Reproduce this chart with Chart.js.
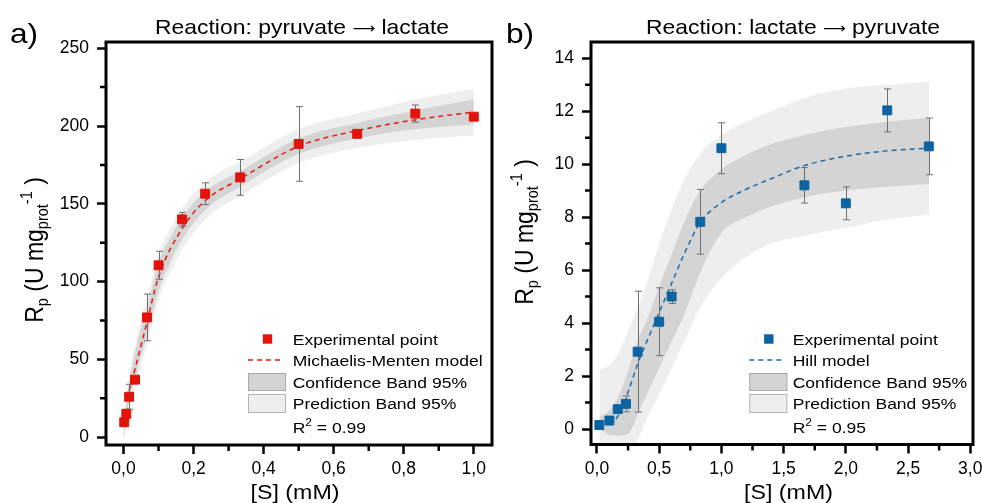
<!DOCTYPE html>
<html>
<head>
<meta charset="utf-8">
<script src="https://cdn.jsdelivr.net/npm/chart.js@4.4.1/dist/chart.umd.min.js"></script>
<style>
  body { margin:0; background:#fff; }
  #wrap { position:relative; width:982px; height:503px; overflow:hidden; }
  .box { position:absolute; top:0; height:503px; }
  #boxA { left:0; width:496px; }
  #boxB { left:491px; width:491px; }
</style>
</head>
<body>
<div id="wrap">
  <div class="box" id="boxA"><canvas id="chartA"></canvas></div>
  <div class="box" id="boxB"><canvas id="chartB"></canvas></div>
</div>
<script>
// a) pyruvate -> lactate : experimental points
var sA   = [0.002, 0.008, 0.016, 0.033, 0.067, 0.1, 0.167, 0.233, 0.333, 0.5, 0.667, 0.833, 1.0];
var rpA  = [9.6, 15, 26, 37, 77, 110.5, 140, 156.5, 167, 188.5, 195, 208, 206];
var errA = [2, 3, 8, 2, 15, 9, 4.5, 7, 11.5, 24, 2.5, 5.5, 2];
// Michaelis-Menten curve
var fitSA  = [0.016, 0.033, 0.067, 0.1, 0.167, 0.233, 0.333, 0.5, 0.667, 0.833, 1.0];
var fitRpA = [30, 44, 74, 103, 134, 152, 166, 187, 197, 204, 209];
// bands
var bandSA  = [0, 0.01, 0.02, 0.033, 0.05, 0.067, 0.1, 0.133, 0.167, 0.233, 0.333, 0.5, 0.667, 0.833, 1.0];
var confLoA = [-2, 15, 28, 38, 52, 65, 94, 112, 127, 146, 161, 182, 192, 198, 201];
var confHiA = [2, 25, 40, 54, 70, 83, 112, 128, 141, 158, 171, 192, 202, 210, 217];
var predLoA = [-5, 10, 22, 32, 46, 59, 88, 106, 121, 140, 155, 176, 186, 191, 194];
var predHiA = [5, 30, 46, 60, 76, 89, 118, 134, 147, 164, 177, 198, 208, 217, 224];
var xMajorA = [0, 0.2, 0.4, 0.6, 0.8, 1.0];
var xLabelsA = ['0,0', '0,2', '0,4', '0,6', '0,8', '1,0'];
var xMinorA = [0.1, 0.3, 0.5, 0.7, 0.9];
var yMajorA = [0, 50, 100, 150, 200, 250];
var yLabelsA = ['0', '50', '100', '150', '200', '250'];
var yMinorA = [25, 75, 125, 175, 225];

// b) lactate -> pyruvate : experimental points
var sB   = [0.019, 0.1, 0.167, 0.233, 0.327, 0.5, 0.6, 0.83, 1.0, 1.667, 2.0, 2.333, 2.667];
var rpB  = [0.15, 0.32, 0.75, 0.95, 2.92, 4.05, 5.0, 7.82, 10.6, 9.2, 8.52, 12.03, 10.67];
var errB = [0.08, 0.08, 0.12, 0.3, 2.28, 1.28, 0.26, 1.22, 0.96, 0.67, 0.62, 0.81, 1.07];
// Hill curve
var fitSB  = [0.1, 0.17, 0.25, 0.33, 0.4, 0.5, 0.6, 0.7, 0.83, 1.0, 1.2, 1.4, 1.67, 2.0, 2.33, 2.67];
var fitRpB = [0.15, 0.5, 1.4, 2.5, 3.3, 4.4, 5.5, 6.6, 7.8, 8.55, 9.05, 9.45, 9.95, 10.3, 10.5, 10.6];
var bandSB  = [0.02, 0.1, 0.17, 0.25, 0.33, 0.4, 0.5, 0.6, 0.7, 0.83, 1.0, 1.2, 1.4, 1.67, 2.0, 2.33, 2.67];
var confLoB = [0.0, -0.22, -0.25, -0.18, 0.6, 1.3, 2.3, 3.3, 4.3, 5.9, 7.4, 8.0, 8.4, 8.75, 9.0, 9.15, 9.25];
var confHiB = [0.45, 0.7, 1.2, 2.2, 3.4, 4.1, 5.4, 6.6, 7.8, 9.0, 9.8, 10.35, 10.75, 11.1, 11.4, 11.6, 11.75];
var predLoB = [-2.0, -2.0, -1.8, -1.3, -0.4, 0.4, 1.3, 2.3, 3.3, 4.6, 5.7, 6.5, 7.0, 7.3, 7.6, 7.9, 8.1];
var predHiB = [2.25, 2.4, 2.85, 3.7, 4.6, 5.5, 7.0, 8.3, 9.4, 10.4, 11.1, 11.6, 12.0, 12.5, 12.85, 13.0, 13.1];
var xMajorB = [0, 0.5, 1.0, 1.5, 2.0, 2.5, 3.0];
var xLabelsB = ['0,0', '0,5', '1,0', '1,5', '2,0', '2,5', '3,0'];
var xMinorB = [0.25, 0.75, 1.25, 1.75, 2.25, 2.75];
var yMajorB = [0, 2, 4, 6, 8, 10, 12, 14];
var yLabelsB = ['0', '2', '4', '6', '8', '10', '12', '14'];
var yMinorB = [1, 3, 5, 7, 9, 11, 13];

var FONT = '"Liberation Sans", Arial, sans-serif';
var ARROWFONT = '"DejaVu Sans", sans-serif';
var SX = 1.13; // the figure text is a bit wide
Chart.defaults.font.family = FONT;

function pts(xs, ys) {
  return xs.map(function(x, i) { return {x: x, y: ys[i]}; });
}

function txt(ctx, s, x, y, size, align) {
  ctx.save();
  ctx.translate(x, y);
  ctx.scale(SX, 1);
  ctx.font = size + 'px ' + FONT;
  ctx.fillStyle = '#000';
  ctx.textAlign = align || 'left';
  ctx.textBaseline = 'alphabetic';
  ctx.fillText(s, 0, 0);
  ctx.restore();
}

// pieces of text with sub/superscripts, drawn one after the other
function richText(ctx, parts, x, y) {
  var cx = x;
  parts.forEach(function(p) {
    ctx.font = p.size + 'px ' + (p.font || FONT);
    ctx.fillText(p.t, cx, y + (p.dy || 0));
    cx += ctx.measureText(p.t).width;
  });
}
function richWidth(ctx, parts) {
  var w = 0;
  parts.forEach(function(p) { ctx.font = p.size + 'px ' + (p.font || FONT); w += ctx.measureText(p.t).width; });
  return w;
}

var yTitle = [
  {t: 'R', size: 23}, {t: 'p', size: 14.5, dy: 5}, {t: ' (U mg', size: 23},
  {t: 'prot', size: 14.5, dy: 5}, {t: '-1', size: 14.5, dy: -9}, {t: ' )', size: 23}
];

function deco(o) {
  return {
    id: 'deco',
    beforeDatasetDraw: function(chart, args) {
      if (args.index !== 0) return;
      // error bars, under the squares
      var ctx = chart.ctx, xs = chart.scales.x, ys = chart.scales.y;
      ctx.save();
      ctx.strokeStyle = '#707070';
      ctx.lineWidth = 1;
      for (var i = 0; i < o.s.length; i++) {
        var px = Math.round(xs.getPixelForValue(o.s[i])) + 0.5;
        var top = ys.getPixelForValue(o.rp[i] + o.err[i]);
        var bot = ys.getPixelForValue(o.rp[i] - o.err[i]);
        ctx.beginPath();
        ctx.moveTo(px, top); ctx.lineTo(px, bot);
        ctx.moveTo(px - 3.5, top); ctx.lineTo(px + 3.5, top);
        ctx.moveTo(px - 3.5, bot); ctx.lineTo(px + 3.5, bot);
        ctx.stroke();
      }
      ctx.restore();
    },
    afterDraw: function(chart) {
      var ctx = chart.ctx, a = chart.chartArea, xs = chart.scales.x, ys = chart.scales.y;
      ctx.save();
      // frame
      ctx.strokeStyle = '#000';
      ctx.lineWidth = 3;
      ctx.strokeRect(a.left, a.top, a.right - a.left, a.bottom - a.top);
      // minor ticks
      ctx.lineWidth = 2.5;
      ctx.beginPath();
      o.xMinor.forEach(function(v) {
        var p = xs.getPixelForValue(v);
        ctx.moveTo(p, a.bottom + 1); ctx.lineTo(p, a.bottom + 6);
      });
      o.yMinor.forEach(function(v) {
        var p = ys.getPixelForValue(v);
        ctx.moveTo(a.left - 1, p); ctx.lineTo(a.left - 6, p);
      });
      ctx.stroke();

      // texts
      txt(ctx, o.letter, o.letterX, 43, 28, 'left');
      txt(ctx, '[S] (mM)', o.xTitleX, 499, 20.5, 'center');

      var title = [{t: o.title[0] + ' ', size: 20.3}, {t: '\u27F6', size: 14, font: ARROWFONT, dy: -1},
                   {t: ' ' + o.title[1], size: 20.3}];
      ctx.save();
      ctx.fillStyle = '#000';
      ctx.translate(o.titleX, 33.5);
      ctx.scale(SX, 1);
      richText(ctx, title, -richWidth(ctx, title) / 2, 0);
      ctx.restore();

      ctx.save();
      ctx.fillStyle = '#000';
      ctx.translate(o.yTitleX, o.yTitleY);
      ctx.scale(SX, 1);
      ctx.rotate(-Math.PI / 2);
      richText(ctx, yTitle, -richWidth(ctx, yTitle) / 2, 0);
      ctx.restore();

      // legend
      var bl = o.legX, tx = o.legTx;
      ctx.fillStyle = o.color;
      ctx.fillRect(bl + 19.5 - 4.7, 339 - 4.7, 9.4, 9.4);
      txt(ctx, 'Experimental point', tx, 344.5, 15.5);
      ctx.strokeStyle = o.lineColor;
      ctx.lineWidth = 1.5;
      ctx.setLineDash([5, 4]);
      ctx.beginPath(); ctx.moveTo(bl, 360); ctx.lineTo(bl + 34, 360); ctx.stroke();
      ctx.setLineDash([]);
      txt(ctx, o.model, tx, 365.5, 15.5);
      ctx.lineWidth = 1;
      ctx.fillStyle = '#d4d4d4'; ctx.strokeStyle = '#a8a8a8';
      ctx.fillRect(bl, 373, 38, 18); ctx.strokeRect(bl + 0.5, 373.5, 37, 17);
      txt(ctx, 'Confidence Band 95%', tx, 387.5, 15.5);
      ctx.fillStyle = '#eeeeee'; ctx.strokeStyle = '#b4b4b4';
      ctx.fillRect(bl, 394, 38, 19); ctx.strokeRect(bl + 0.5, 394.5, 37, 18);
      txt(ctx, 'Prediction Band 95%', tx, 409, 15.5);
      // R2
      ctx.save();
      ctx.translate(tx, 433);
      ctx.scale(SX, 1);
      ctx.fillStyle = '#000';
      richText(ctx, [{t: 'R', size: 15.5}, {t: '2', size: 10.5, dy: -7}, {t: ' = ' + o.r2, size: 15.5}], 0, 0);
      ctx.restore();

      ctx.restore();
    }
  };
}

function makeChart(id, o) {
  var ctx = document.getElementById(id).getContext('2d');
  return new Chart(ctx, {
    type: 'line',
    data: {
      datasets: [
        { label: 'Experimental point', data: pts(o.s, o.rp), showLine: false, pointStyle: 'rect',
          pointRadius: 6.3, backgroundColor: o.color, borderColor: o.color, borderWidth: 1, order: 0 },
        { label: o.model, data: pts(o.fitS, o.fitRp), borderColor: o.lineColor, borderWidth: 1.5,
          borderDash: [5, 4], pointRadius: 0, cubicInterpolationMode: 'monotone', fill: false, order: 1 },
        { label: 'conf hi', data: pts(o.bandS, o.confHi), borderColor: 'rgba(0,0,0,0)', borderWidth: 0,
          pointRadius: 0, cubicInterpolationMode: 'monotone', fill: '+1', backgroundColor: '#d4d4d4', order: 2 },
        { label: 'conf lo', data: pts(o.bandS, o.confLo), borderColor: 'rgba(0,0,0,0)', borderWidth: 0,
          pointRadius: 0, cubicInterpolationMode: 'monotone', fill: false, order: 2 },
        { label: 'pred hi', data: pts(o.bandS, o.predHi), borderColor: 'rgba(0,0,0,0)', borderWidth: 0,
          pointRadius: 0, cubicInterpolationMode: 'monotone', fill: '+1', backgroundColor: '#eeeeee', order: 3 },
        { label: 'pred lo', data: pts(o.bandS, o.predLo), borderColor: 'rgba(0,0,0,0)', borderWidth: 0,
          pointRadius: 0, cubicInterpolationMode: 'monotone', fill: false, order: 3 }
      ]
    },
    options: {
      responsive: true,
      maintainAspectRatio: false,
      animation: false,
      events: [],
      layout: { autoPadding: false, padding: { left: 0, right: o.padRight, top: 42, bottom: 0 } },
      plugins: { legend: { display: false }, tooltip: { enabled: false } },
      scales: {
        x: {
          type: 'linear', min: o.xMin, max: o.xMax,
          afterBuildTicks: function(s) { s.ticks = o.xMajor.map(function(v) { return {value: v}; }); },
          afterFit: function(s) { s.height = o.xAxisH; s.paddingLeft = 0; s.paddingRight = 0; },
          grid: { drawOnChartArea: false, drawTicks: true, tickLength: 9, tickWidth: 2.5, tickColor: '#000' },
          border: { display: false },
          ticks: { color: '#000', font: { size: 17.5 }, padding: 5, maxRotation: 0, autoSkip: false,
                   callback: function(v, i) { return o.xLabels[i]; } }
        },
        y: {
          type: 'linear', min: o.yMin, max: o.yMax,
          afterBuildTicks: function(s) { s.ticks = o.yMajor.map(function(v) { return {value: v}; }); },
          afterFit: function(s) { s.width = o.yAxisW; s.paddingTop = 0; s.paddingBottom = 0; },
          grid: { drawOnChartArea: false, drawTicks: true, tickLength: 9, tickWidth: 2.5, tickColor: '#000' },
          border: { display: false },
          ticks: { color: '#000', font: { size: 17.5 }, padding: 8, autoSkip: false,
                   callback: function(v, i) { return o.yLabels[i]; } }
        }
      }
    },
    plugins: [deco(o)]
  });
}

// Graphique a)
makeChart('chartA', {
  s: sA, rp: rpA, err: errA, fitS: fitSA, fitRp: fitRpA,
  bandS: bandSA, confLo: confLoA, confHi: confHiA, predLo: predLoA, predHi: predHiA,
  xMajor: xMajorA, xLabels: xLabelsA, xMinor: xMinorA, yMajor: yMajorA, yLabels: yLabelsA, yMinor: yMinorA,
  xMin: -0.05, xMax: 1.052, yMin: -5, yMax: 254,
  color: '#e2130b', lineColor: '#e31b14', model: 'Michaelis-Menten model', r2: '0.99',
  letter: 'a)', letterX: 10, title: ['Reaction: pyruvate', 'lactate'], titleX: 302, xTitleX: 295,
  yTitleX: 42.5, yTitleY: 250, legX: 248, legTx: 292.7,
  padRight: 4, yAxisW: 106, xAxisH: 58
});

// Graphique b)
makeChart('chartB', {
  s: sB, rp: rpB, err: errB, fitS: fitSB, fitRp: fitRpB,
  bandS: bandSB, confLo: confLoB, confHi: confHiB, predLo: predLoB, predHi: predHiB,
  xMajor: xMajorB, xLabels: xLabelsB, xMinor: xMinorB, yMajor: yMajorB, yLabels: yLabelsB, yMinor: yMinorB,
  xMin: -0.048, xMax: 3.022, yMin: -0.584, yMax: 14.61,
  color: '#0b63a2', lineColor: '#1a6aa8', model: 'Hill model', r2: '0.95',
  letter: 'b)', letterX: 15, title: ['Reaction: lactate', 'pyruvate'], titleX: 302, xTitleX: 297.5,
  yTitleX: 41.5, yTitleY: 232, legX: 258.3, legTx: 301.7,
  padRight: 9, yAxisW: 100, xAxisH: 58.5
});
</script>
</body>
</html>
